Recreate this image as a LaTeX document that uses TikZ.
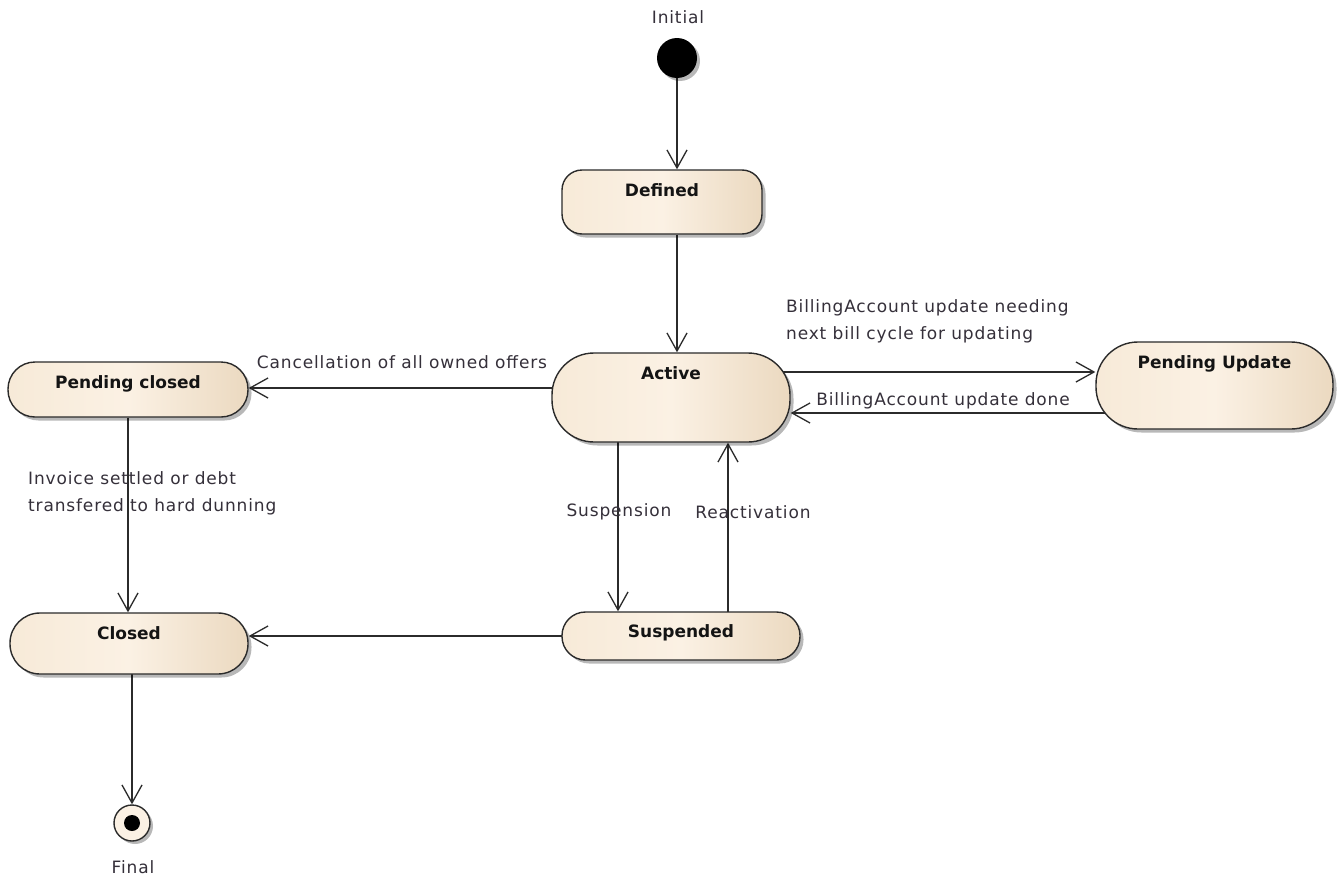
\documentclass[tikz,border=0pt]{standalone}
\usepackage{fontspec}
\setmainfont{DejaVu Sans}
\newfontfamily\lblfont{DejaVu Sans}[LetterSpace=5]
\usetikzlibrary{arrows.meta,shadows}
\pgfdeclarelayer{background}
\pgfsetlayers{background,main}
\definecolor{stfillL}{HTML}{F7EAD8}
\definecolor{stfillM}{HTML}{FBF1E4}
\definecolor{stfillR}{HTML}{EBD9C0}
\definecolor{stline}{HTML}{2B2B2B}
\definecolor{lbltxt}{HTML}{35303A}
\begin{document}
\begin{tikzpicture}[x=1pt,y=-1pt,
  state/.style={rectangle, draw=stline, line width=1.4pt,
    left color=stfillL, right color=stfillR, middle color=stfillM,
    inner xsep=0pt, inner ysep=0pt, text height=26pt,
    font=\bfseries\fontsize{17}{20}\selectfont, text=black!92,
    drop shadow={shadow xshift=3.5pt, shadow yshift=-3.5pt, fill=black, opacity=0.28}},
  lbl/.style={font=\lblfont\fontsize{17}{27}\selectfont, text=lbltxt, inner sep=0pt},
  conn/.style={draw=stline, line width=1.3pt, -{Straight Barb[length=18pt,width=20pt]}}]

\useasboundingbox (0,0) rectangle (1342,878);

% states
\node[state, minimum width=200pt, text depth=38pt, rounded corners=20pt] (defined) at (662,202) {Defined};
\node[state, minimum width=238pt, text depth=63pt, rounded corners=42pt] (active) at (671,397.5) {Active};
\node[state, minimum width=237pt, text depth=61pt, rounded corners=42pt] (pupd) at (1214.5,385.5) {Pending Update};
\node[state, minimum width=240pt, text depth=29pt, rounded corners=27pt] (pclosed) at (128,389.5) {Pending closed};
\node[state, minimum width=238pt, text depth=35pt, rounded corners=30pt] (closed) at (129,643.5) {Closed};
\node[state, minimum width=238pt, text height=25pt, text depth=23pt, rounded corners=23.5pt] (susp) at (681,636) {Suspended};

% pseudo states
\node[circle, fill=black, minimum size=40pt, inner sep=0pt,
  drop shadow={shadow xshift=3pt, shadow yshift=-3pt, fill=black, opacity=0.28}] (init) at (677,58) {};
\node[circle, draw=stline, line width=1.4pt, fill=stfillM, minimum size=36pt, inner sep=0pt,
  drop shadow={shadow xshift=3pt, shadow yshift=-3pt, fill=black, opacity=0.28}] (final) at (132,823) {};
\node[circle, fill=black, minimum size=16pt, inner sep=0pt] (finaldot) at (final) {};

% helper coordinates
\coordinate (h388) at (0,388);
\coordinate (h372) at (0,372);
\coordinate (h413) at (0,413);
\coordinate (h636) at (0,636);
\coordinate (v618) at (618,0);
\coordinate (v728) at (728,0);

% connectors
\begin{pgfonlayer}{background}
\fill[white] (0,0) rectangle (1342,878);
\draw[conn] (init) -- (init |- defined.north);
\draw[conn] (init |- defined.south) -- (init |- active.north);
\draw[conn] (active |- h388) -- (pclosed.east |- h388);
\draw[conn] (active |- h372) -- (pupd.west |- h372);
\draw[conn] (pupd |- h413) -- (active.east |- h413);
\draw[conn] (v618 |- active) -- (v618 |- susp.north);
\draw[conn] (v728 |- susp) -- (v728 |- active.south);
\draw[conn] (susp |- h636) -- (closed.east |- h636);
\draw[conn] (pclosed) -- (pclosed |- closed.north);
\draw[conn] (final |- closed) -- (final.north);
\end{pgfonlayer}

% labels
\node[lbl] (linit) at (678,17) {Initial};
\node[lbl] (lfinal) at (133,867) {Final};
\node[lbl] (lcancel) at (402,362) {Cancellation of all owned offers};
\node[lbl, anchor=west, align=left] (lneed) at (786,321.5) {BillingAccount update needing\\next bill cycle for updating};
\node[lbl] (ldone) at (943,401) {BillingAccount update done};
\node[lbl] (lsusp) at (619,512) {Suspension};
\node[lbl] (lreact) at (753,512) {Reactivation};
\node[lbl, anchor=west, align=left] (linv) at (28,493.5) {Invoice settled or debt\\transfered to hard dunning};
\end{tikzpicture}
\end{document}
